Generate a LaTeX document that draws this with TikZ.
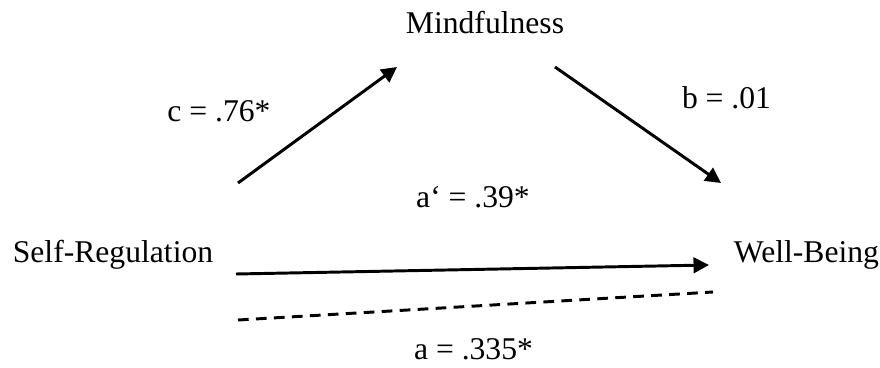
\documentclass[tikz,border=0pt]{standalone}
\usepackage{fontspec}
\setmainfont{Liberation Serif}
\usetikzlibrary{positioning,arrows.meta}

\begin{document}
\begin{tikzpicture}[every node/.style={inner sep=0pt, font=\fontsize{22.5}{27}\selectfont},
  path/.style={line width=2.1pt, -{Triangle[length=11pt,width=11pt]}}]
\useasboundingbox (0,0) rectangle (22,9.175);
\node (mind) at (12.125,8.62) {Mindfulness};
\node (self) at (2.825,2.81) {Self-Regulation};
\node (well) at (20.1625,2.81) {Well-Being};
\node (c) at (5.475,6.39) {c = .76*};
\node (b) at (18.1625,6.72) {b = .01};
\node (ad) at (11.825,4.2425) {a‘ = .39*};
\node (a) at (11.8375,0.45) {a = .335*};

\coordinate (cs) at (5.95,4.6);
\coordinate (ce) at (9.925,7.5);
\coordinate (bs) at (13.875,7.5);
\coordinate (be) at (18.025,4.6);
\coordinate (ds) at (5.9,2.325);
\coordinate (de) at (17.725,2.55);
\coordinate (ts) at (5.95,1.175);
\coordinate (te) at (17.825,1.875);

\draw[path] (cs) -- (ce);
\draw[path] (bs) -- (be);
\draw[path] (ds) -- (de);
\draw[line width=2.1pt, dash pattern=on 7.6pt off 5.2pt] (ts) -- (te);
\end{tikzpicture}
\end{document}
